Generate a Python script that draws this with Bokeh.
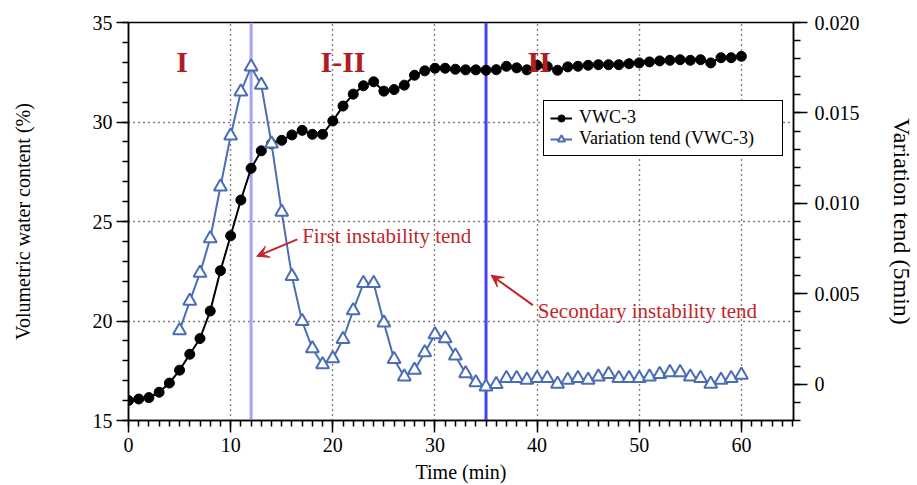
from bokeh.plotting import figure
from bokeh.models import (Range1d, LinearAxis, SingleIntervalTicker, Span, Label,
                          Arrow, VeeHead, Legend, LegendItem, CustomJSTickFormatter)
from bokeh.embed import file_html
from bokeh.resources import INLINE

# ---------------- data ----------------
time_vwc = [0, 1, 2, 3, 4, 5, 6, 7, 8, 9, 10, 11, 12, 13, 14, 15, 16, 17, 18, 19, 20,
            21, 22, 23, 24, 25, 26, 27, 28, 29, 30, 31, 32, 33, 34, 35, 36, 37, 38, 39, 40,
            41, 42, 43, 44, 45, 46, 47, 48, 49, 50, 51, 52, 53, 54, 55, 56, 57, 58, 59, 60]
vwc3 = [16.0, 16.08, 16.15, 16.42, 16.88, 17.53, 18.33, 19.12, 20.5, 22.53, 24.28,
        26.08, 27.67, 28.55, 28.9, 29.08, 29.35, 29.58, 29.38, 29.38, 30.05,
        30.8, 31.4, 31.82, 32.02, 31.55, 31.63, 31.85, 32.35, 32.57, 32.7,
        32.7, 32.65, 32.62, 32.62, 32.6, 32.63, 32.8, 32.72, 32.62, 32.85,
        32.78, 32.6, 32.77, 32.8, 32.85, 32.88, 32.88, 32.88, 32.93, 32.97,
        33.02, 33.07, 33.1, 33.13, 33.1, 33.13, 32.97, 33.23, 33.23, 33.3]

time_tend = [5, 6, 7, 8, 9, 10, 11, 12, 13, 14, 15, 16, 17, 18, 19, 20,
             21, 22, 23, 24, 25, 26, 27, 28, 29, 30, 31, 32, 33, 34, 35, 36, 37, 38, 39, 40,
             41, 42, 43, 44, 45, 46, 47, 48, 49, 50, 51, 52, 53, 54, 55, 56, 57, 58, 59, 60]
tend = [0.00298, 0.0046, 0.00615, 0.00806, 0.01092, 0.01374, 0.01617, 0.01755, 0.01654,
        0.0133, 0.00952, 0.00597, 0.00348, 0.00198, 0.0011, 0.00143,
        0.00249, 0.00408, 0.00559, 0.00559, 0.0034, 0.00139, 0.00042, 0.00079, 0.00176, 0.00275,
        0.00253, 0.00158, 0.0006, 0.0001, -0.00013, 0.0, 0.00033, 0.00033, 0.00024, 0.00033,
        0.00033, 0.00002, 0.00024, 0.00033, 0.00024, 0.00042, 0.00055, 0.00033, 0.00033, 0.00033,
        0.00042, 0.00055, 0.00066, 0.00066, 0.00042, 0.00033, 0.00002, 0.00024, 0.00033, 0.00051]

series_names = ["VWC-3", "Variation tend (VWC-3)"]
stage_labels = ["I", "I-II", "II"]
stage_x = [5.25, 21.0, 40.2]
marker_times = [12, 35]
annot_texts = ["First instability tend", "Secondary instability tend"]

# ---------------- styling ----------------
FONT = "Liberation Serif"
BLACK = "#000000"
BLUE = "#4a6db5"
RED = "#c0262b"
DARKRED = "#b01c22"

p = figure(width=917, height=485, x_range=Range1d(0, 65.1), y_range=Range1d(15, 35),
           output_backend="svg", toolbar_location=None,
           min_border_left=128, min_border_right=120, min_border_top=22, min_border_bottom=63)
p.extra_y_ranges = {"tend": Range1d(-0.002, 0.020)}

p.outline_line_color = BLACK
p.outline_line_width = 1.5
p.outline_line_alpha = 1.0
p.background_fill_color = "white"
p.border_fill_color = "white"

xt = SingleIntervalTicker(interval=10, num_minor_ticks=10)
yt = SingleIntervalTicker(interval=5, num_minor_ticks=5)
p.xaxis.ticker = xt
p.yaxis.ticker = yt
p.xgrid.ticker = xt
p.ygrid.ticker = yt
for g in (p.xgrid, p.ygrid):
    g.grid_line_color = BLACK
    g.grid_line_dash = "1 4"
    g.grid_line_width = 1.4

p.xaxis.axis_label = "Time (min)"
p.yaxis.axis_label = "Volumetric water content (%)"

ax2 = LinearAxis(y_range_name="tend",
                 ticker=SingleIntervalTicker(interval=0.005, num_minor_ticks=5),
                 formatter=CustomJSTickFormatter(code="return Math.abs(tick) < 1e-9 ? '0' : tick.toFixed(3);"),
                 axis_label="Variation tend (5min)")
p.add_layout(ax2, "right")

for ax in (p.xaxis[0], p.yaxis[0], ax2):
    ax.axis_line_color = BLACK
    ax.axis_line_width = 1.5
    ax.major_tick_line_color = BLACK
    ax.minor_tick_line_color = BLACK
    ax.major_tick_line_width = 1.5
    ax.minor_tick_line_width = 1.5
    ax.major_tick_in = 0
    ax.minor_tick_in = 0
    ax.major_label_text_font = FONT
    ax.major_label_text_font_size = "20px"
    ax.major_label_text_color = BLACK
    ax.axis_label_text_font = FONT
    ax.axis_label_text_font_size = "20px"
    ax.axis_label_text_font_style = "normal"
    ax.axis_label_text_color = BLACK

p.xaxis.major_tick_out = 12
p.xaxis.minor_tick_out = 6
p.xaxis.major_label_standoff = 5
p.xaxis.axis_label_standoff = 6
p.yaxis.major_tick_out = 12
p.yaxis.minor_tick_out = 6
p.yaxis.major_label_standoff = 4
p.yaxis.axis_label_standoff = 56
ax2.major_tick_out = 14
ax2.minor_tick_out = 7
ax2.major_label_standoff = 7
ax2.axis_label_standoff = 26
ax2.axis_label_text_font_size = "24px"

# vertical markers
span_cols = ["#a4a4f7", "#4444f4"]
for t, c in zip(marker_times, span_cols):
    p.add_layout(Span(location=t, dimension="height", line_color=c, line_width=3, level="underlay"))

# series
r1 = p.line(time_vwc, vwc3, line_color=BLACK, line_width=2)
r2 = p.scatter(time_vwc, vwc3, marker="circle", size=10, fill_color=BLACK, line_color=BLACK)
r3 = p.line(time_tend, tend, line_color=BLUE, line_width=2, y_range_name="tend")
r4 = p.scatter(time_tend, tend, marker="triangle", size=13, fill_color="white",
               line_color=BLUE, line_width=2, y_range_name="tend")

# stage labels
for txt, sx in zip(stage_labels, stage_x):
    p.add_layout(Label(x=sx, y=33.05, text=txt, text_align="center", text_baseline="middle",
                       text_font=FONT, text_font_size="30px", text_font_style="bold",
                       text_color=DARKRED))

# annotations
p.add_layout(Label(x=17.0, y=24.25, text=annot_texts[0], text_align="left",
                   text_baseline="alphabetic", text_font=FONT, text_font_size="21px",
                   text_color=RED))
p.add_layout(Label(x=40.07, y=20.5, text=annot_texts[1], text_align="left",
                   text_baseline="alphabetic", text_font=FONT, text_font_size="21px",
                   text_color=RED))
p.add_layout(Arrow(end=VeeHead(size=12, fill_color=RED, line_color=RED),
                   x_start=16.53, y_start=24.1, x_end=12.55, y_end=23.25,
                   line_color=RED, line_width=2))
p.add_layout(Arrow(end=VeeHead(size=12, fill_color=RED, line_color=RED),
                   x_start=39.58, y_start=20.8, x_end=35.5, y_end=22.3,
                   line_color=RED, line_width=2))

legend = Legend(items=[LegendItem(label=series_names[0], renderers=[r1, r2]),
                       LegendItem(label=series_names[1], renderers=[r3, r4])],
                location=(415, 264))
legend.border_line_color = BLACK
legend.border_line_width = 1.5
legend.border_line_alpha = 1.0
legend.background_fill_color = "white"
legend.background_fill_alpha = 1.0
legend.label_text_font = FONT
legend.label_text_font_size = "18px"
legend.label_text_color = BLACK
legend.glyph_width = 22
legend.glyph_height = 18
legend.label_height = 18
legend.label_width = 197
legend.label_standoff = 7
legend.padding = 6
legend.spacing = 0
legend.margin = 0
p.add_layout(legend)

open("out.html", "w").write(file_html(p, INLINE))
